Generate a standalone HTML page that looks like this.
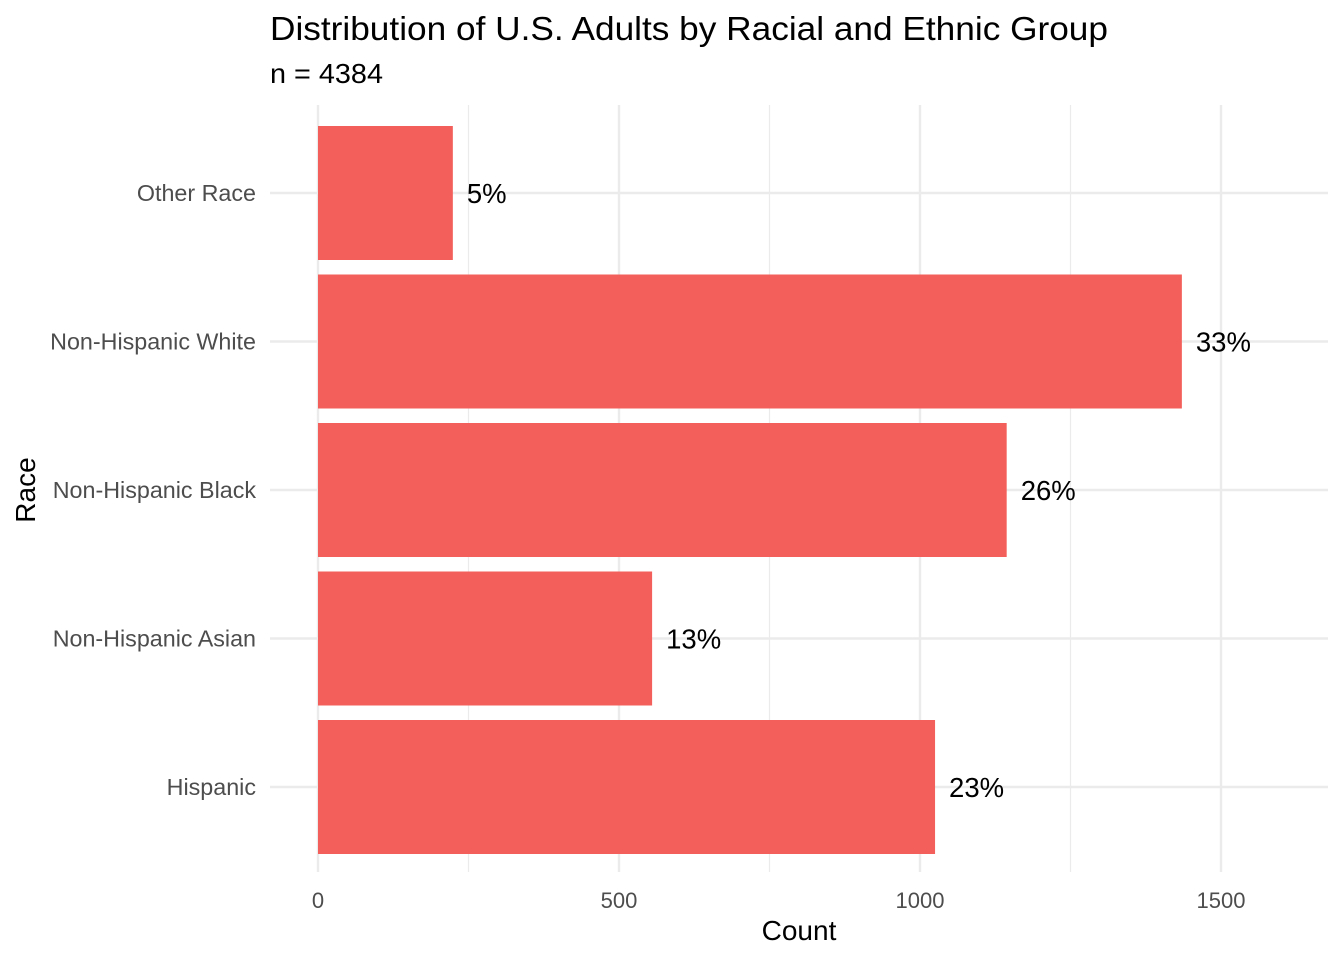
<!DOCTYPE html>
<html><head><meta charset="utf-8"><style>
body{margin:0;background:#fff;font-family:"Liberation Sans",Arial,sans-serif;}
svg text{font-family:"Liberation Sans",Arial,sans-serif;}
</style></head><body>
<svg id="chart" width="1344" height="960" xmlns="http://www.w3.org/2000/svg">
<rect width="1344" height="960" fill="#fff"/>
<text x="270" y="40" font-size="33" fill="#000" textLength="838" lengthAdjust="spacingAndGlyphs">Distribution of U.S. Adults by Racial and Ethnic Group</text>
<text x="270" y="83" font-size="28" fill="#000" textLength="113" lengthAdjust="spacingAndGlyphs">n = 4384</text>
<g id="grid"></g><g id="bars"></g><g id="labels"></g><g id="axes"></g>
<text x="799" y="940" font-size="28" text-anchor="middle" fill="#000">Count</text>
<text x="35" y="490" font-size="28" text-anchor="middle" fill="#000" transform="rotate(-90 35 490)">Race</text>
</svg>
<script>
const categories=["Hispanic","Non-Hispanic Asian","Non-Hispanic Black","Non-Hispanic White","Other Race"];
const counts=[1025,555,1144,1435,224];
const percentLabels=["23%","13%","26%","33%","5%"];
const xTicks=[0,500,1000,1500];
const xMinor=[250,750,1250];
const NS="http://www.w3.org/2000/svg";
const x0=318,pxPer=0.602;
const xs=v=>x0+v*pxPer;
const yTop=119,step=148.5;
const yc=i=>yTop+(categories.length-1-i)*step+74;
const bandH=134;
function mk(t,a,p){const e=document.createElementNS(NS,t);for(const k in a)e.setAttribute(k,a[k]);p.appendChild(e);return e;}
const grid=document.getElementById('grid'),bars=document.getElementById('bars'),labels=document.getElementById('labels'),axes=document.getElementById('axes');
xMinor.forEach(v=>{const l=mk('line',{x1:xs(v),x2:xs(v),y1:105,y2:872,stroke:'#ebebeb','stroke-width':1.2},grid);

});
xTicks.forEach(v=>{const l=mk('line',{x1:xs(v),x2:xs(v),y1:105,y2:872,stroke:'#ebebeb','stroke-width':2.4},grid);


const t=mk('text',{x:xs(v),y:908,'font-size':22,'text-anchor':'middle',fill:'#4d4d4d'},axes);t.textContent=v;

});
categories.forEach((c,i)=>{const y=yc(i);
const l=mk('line',{x1:270,x2:1328,y1:y,y2:y,stroke:'#ebebeb','stroke-width':2.4},grid);


const r=mk('rect',{x:xs(0),y:y-bandH/2,width:xs(counts[i])-xs(0),height:bandH,fill:'#f3605b'},bars);


const t=mk('text',{x:xs(counts[i])+14,y:y+10,'font-size':27.5,fill:'#000'},labels);t.textContent=percentLabels[i];


const tl=mk('text',{x:256,y:y+8,'font-size':23.3,'text-anchor':'end',fill:'#4d4d4d'},axes);tl.textContent=c;

});
</script>
</body></html>
